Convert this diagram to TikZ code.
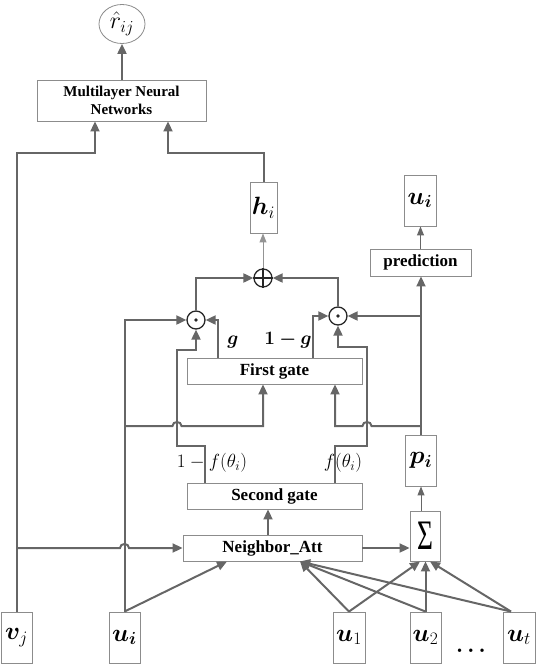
\RequirePackage{fix-cm}
\documentclass[tikz,border=0pt]{standalone}
\usepackage{fontspec}
\setmainfont{Liberation Serif}
\usepackage{bm}
\usetikzlibrary{arrows.meta,shapes.geometric,calc}
\definecolor{ln}{HTML}{666666}
\definecolor{bx}{HTML}{8C8C8C}
\begin{document}
\begin{tikzpicture}[x=1pt,y=-1pt,
  box/.style={draw=bx,line width=0.9pt,inner sep=0pt,align=center},
  lbl/.style={font=\bfseries\fontsize{17}{19}\selectfont},
  arr/.style={draw=ln,line width=2pt,-{Triangle[length=10pt,width=9pt]}},
  thinarr/.style={draw=ln,line width=1pt,-{Triangle[length=9pt,width=7pt]}},
  op/.style={circle,draw=black!85,line width=1.3pt,minimum size=18pt,inner sep=0pt},
  mbox/.style={box,minimum width=31pt,minimum height=51pt,font=\fontsize{25}{27}\selectfont},
  mlab/.style={font=\fontsize{19}{21}\selectfont,inner sep=0pt},
]
\useasboundingbox (0,0) rectangle (536,664);
% nodes
\node[ellipse,draw=bx,line width=0.8pt,minimum width=46pt,minimum height=39pt,inner sep=0pt,font=\fontsize{24}{26}\selectfont] (rhat) at (122,24) {$\hat{r}_{ij}$};
\node[box,minimum width=169pt,minimum height=41pt,font=\bfseries\fontsize{15}{18}\selectfont] (mnn) at (121.5,100.5) {Multilayer Neural\\Networks};
\node[mbox,minimum width=27pt] (hi) at (263.5,207.5) {$\bm{h}_i$};
\node[op] (oplus) at (263,278) {};
\node[op] (odotL) at (196,320) {};
\node[op] (odotR) at (338,316) {};
\node[mbox,minimum width=32pt] (uiout) at (420,200.5) {$\bm{u}_{\bm{i}}$};
\node[box,lbl,minimum width=101pt,minimum height=27pt] (pred) at (420.5,262.5) {prediction};
\node[box,lbl,minimum width=175pt,minimum height=26pt] (first) at (274.5,371) {First gate};
\node[box,lbl,minimum width=175pt,minimum height=26pt] (second) at (274.5,496) {Second gate};
\node[box,lbl,minimum width=179pt,minimum height=26pt] (natt) at (272.5,548) {Neighbor\_Att};
\node[box,minimum width=30pt,minimum height=50pt] (sigma) at (425,536) {\fontsize{42}{42}\selectfont\scalebox{0.65}[1]{Σ}};
\node[mbox] (pi) at (421,460.5) {$\bm{p}_{\bm{i}}$};
\node[mbox] (vj) at (16.5,637.5) {$\bm{v}_j$};
\node[mbox] (uiin) at (124.5,637.5) {$\bm{u}_{\bm{i}}$};
\node[mbox,minimum width=32pt] (u1) at (349,637.5) {$\bm{u}_1$};
\node[mbox] (u2) at (425.5,637.5) {$\bm{u}_2$};
\node[mbox,minimum width=32pt] (ut) at (519,637.5) {$\bm{u}_t$};
\node[font=\fontsize{22}{24}\selectfont,inner sep=0pt] (dots) at (471,651) {$\bm{\dots}$};
% operator glyphs
\draw[black!85,line width=1.3pt] (oplus.north) -- (oplus.south) (oplus.west) -- (oplus.east);
\fill[black!85] (odotL) circle (1.8pt);
\fill[black!85] (odotR) circle (1.8pt);
% labels
\node[mlab] (lg) at (233,342) {$\bm{g}$};
\node[mlab] (l1g) at (288,340) {$\bm{1-g}$};
\node[mlab] (lf1) at (212,463) {$1-f(\theta_i)$};
\node[mlab] (lf) at (343,463) {$f(\theta_i)$};
% waypoints
\coordinate (c1) at (95,153);
\coordinate (c2) at (168,153);
\coordinate (bl) at (263,426);
\coordinate (br) at (335,426);
\coordinate (sl) at (205,446);
\coordinate (sl2) at (177,350);
\coordinate (sr) at (335,446);
\coordinate (sr2) at (367,347);
\coordinate (gl) at (218,0);
\coordinate (gr) at (313,0);
\coordinate (ns) at (268,0);
% connectors
\draw[arr] (rhat.south |- mnn.north) -- (rhat.south);
\draw[arr] (vj.north) |- (c1) -- (c1 |- mnn.south);
\draw[arr] (hi.north) |- (c2) -- (c2 |- mnn.south);
\draw[thinarr,draw=ln!70] (oplus.north) -- (oplus.north |- hi.south);
\draw[arr] (odotL.north) |- (oplus.west);
\draw[arr] (odotR.north) |- (oplus.east);
\draw[thinarr] (pred.north) -- (pred.north |- uiout.south);
\draw[arr] (pi.north) -- (pi.north |- pred.south);
\draw[arr] (pi.north |- odotR) -- (odotR.east);
\draw[arr] (pi.north |- br) -- (371.5,426) .. controls (371.5,420.7) and (362.5,420.7) .. (362.5,426) -- (br) -- (br |- first.south);
\draw[arr] (uiin.north |- bl) -- (172.5,426) .. controls (172.5,420.7) and (181.5,420.7) .. (181.5,426) -- (bl) -- (bl |- first.south);
\draw[arr] (uiin.north) |- (odotL.west);
\draw[arr] (second.north -| sl) -- (sl) -- (sl -| sl2) -- (sl2) -- (sl2 -| odotL) -- (odotL.south);
\draw[arr] (second.north -| sr) -- (sr) -- (sr -| sr2) -- (sr2) -- (sr2 -| odotR) -- (odotR.south);
\draw[arr] (first.north -| gl) |- (odotL.east);
\draw[arr] (first.north -| gr) |- (odotR.west);
\draw[arr] (vj.north |- natt.west) -- (120,548) .. controls (120,542.7) and (129,542.7) .. (129,548) -- (natt.west);
\draw[arr] (natt.north -| ns) -- (second.south -| ns);
\draw[arr] (natt.east) -- (natt.east -| sigma.west);
\draw[thinarr] (pi.south |- sigma.north) -- (pi.south);
\draw[arr] (uiin.north) -- ([xshift=-45.5pt]natt.south);
\draw[arr] (u1.north) -- ([xshift=27.5pt]natt.south);
\draw[arr] (u2.north) -- ([xshift=27.5pt]natt.south);
\draw[arr] ([xshift=-8pt]ut.north) -- ([xshift=27.5pt]natt.south);
\draw[arr] (u1.north) -- ([xshift=-5pt]sigma.south);
\draw[arr] (u2.north) -- (u2.north |- sigma.south);
\draw[arr] ([xshift=-8pt]ut.north) -- ([xshift=5pt]sigma.south);
\end{tikzpicture}
\end{document}
